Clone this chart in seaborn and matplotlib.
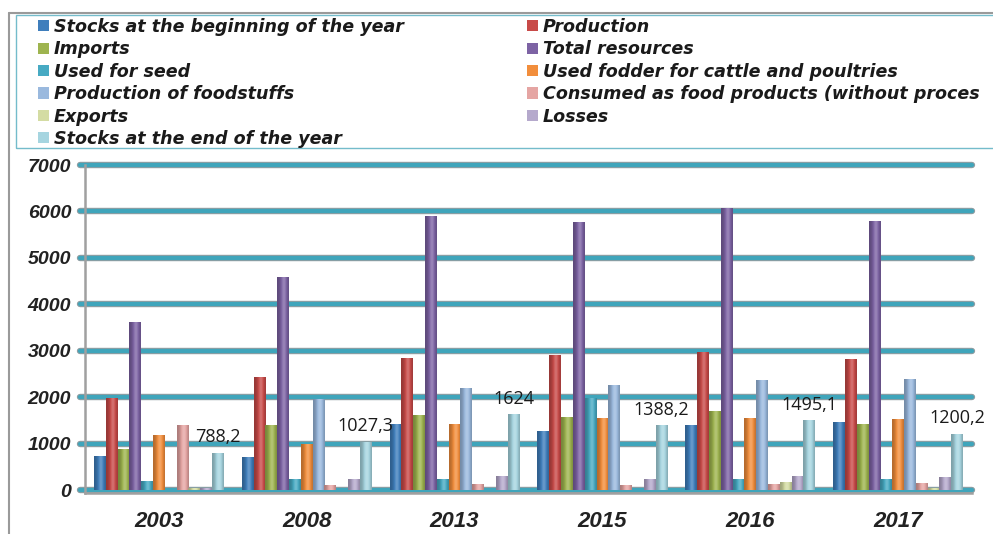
import numpy as np
import pandas as pd
import matplotlib
matplotlib.use("Agg")
import matplotlib.pyplot as plt
from matplotlib.patches import Patch, Rectangle
from matplotlib.lines import Line2D
from matplotlib.colors import to_rgb
import seaborn as sns

# chart values
years = ["2003", "2008", "2013", "2015", "2016", "2017"]
categories = [
    "Stocks at the beginning of the year",
    "Production",
    "Imports",
    "Total resources",
    "Used for seed",
    "Used fodder for cattle and poultries",
    "Production of foodstuffs",
    "Consumed as food products (without proces",  # cut off like in the original
    "Exports",
    "Losses",
    "Stocks at the end of the year",
]
stocks_begin = [720, 710, 1400, 1250, 1380, 1450]
production = [1980, 2430, 2840, 2890, 2960, 2820]
imports = [880, 1380, 1600, 1570, 1680, 1420]
total_resources = [3600, 4570, 5890, 5760, 6070, 5780]
used_seed = [180, 230, 220, 1980, 220, 220]
fodder = [1170, 970, 1420, 1550, 1530, 1510]
foodstuffs = [0, 1940, 2180, 2240, 2350, 2370]
consumed = [1380, 100, 110, 90, 110, 140]
exports = [40, 0, 0, 0, 160, 30]
losses = [40, 220, 300, 220, 300, 270]
stocks_end = [788.2, 1027.3, 1624, 1388.2, 1495.1, 1200.2]
end_labels = ["788,2", "1027,3", "1624", "1388,2", "1495,1", "1200,2"]
yticks = [0, 1000, 2000, 3000, 4000, 5000, 6000, 7000]

series = [stocks_begin, production, imports, total_resources, used_seed, fodder,
          foodstuffs, consumed, exports, losses, stocks_end]
colors = ["#3F7EBC", "#C84A48", "#9EB44F", "#7D63A4", "#47AAC3", "#F28E3C",
          "#9AB9DE", "#E5A5A3", "#D4DCA3", "#B5A9CC", "#A6D5E0"]

rows = []
for cat, vals in zip(categories, series):
    for yr, v in zip(years, vals):
        rows.append({"year": yr, "category": cat, "value": v})
df = pd.DataFrame(rows)

sns.set_style("white")
plt.rcParams["font.family"] = ["Liberation Sans", "DejaVu Sans"]

fig = plt.figure(figsize=(9.93, 5.34), dpi=100)
W, H = 993, 534
ax = fig.add_axes([85 / W, (H - 492.8) / H, 887 / W, 327.8 / H])

# thick teal gridlines with grey rim
for t in yticks:
    ax.axhline(t, xmin=-0.006, xmax=1, color="#8E9EA3", lw=4.6, zorder=0.5, clip_on=False)
    ax.axhline(t, xmin=-0.006, xmax=1, color="#3FA5BB", lw=3.0, zorder=0.6, clip_on=False)

sns.barplot(data=df, x="year", y="value", hue="category", hue_order=categories,
            order=years, palette=colors, saturation=1, width=0.88, dodge=True,
            legend=False, ax=ax, zorder=2, linewidth=0)

ax.set_xlim(-0.5, len(years) - 0.5)
ax.set_ylim(-60, 7000)

# cylinder-like shading on every bar
tt = np.linspace(0, 1, 40)
shade = 0.74 + 0.40 * np.exp(-((tt - 0.58) / 0.30) ** 2)
for p in list(ax.patches):
    h = p.get_height()
    if h <= 0:
        continue
    c = np.array(to_rgb(p.get_facecolor()))
    img = np.empty((1, len(tt), 3))
    for k, f in enumerate(shade):
        img[0, k] = c * f if f < 1 else c + (1 - c) * (f - 1) * 1.6
    img = np.clip(img, 0, 1)
    x0 = p.get_x()
    ax.imshow(img, extent=[x0, x0 + p.get_width(), 0, h], aspect="auto",
              interpolation="bicubic", zorder=2.1)
ax.set_xlim(-0.5, len(years) - 0.5)
ax.set_ylim(-60, 7000)
ax.set_aspect("auto")

ax.bar_label(ax.containers[-1], labels=end_labels, padding=5,
             fontsize=13, family="Open Sans", color="#1a1a1a", zorder=3)

ax.set_yticks(yticks)
ax.set_yticklabels([str(t) for t in yticks])
ax.set_xlabel("")
ax.set_ylabel("")
ax.tick_params(axis="y", length=0, pad=10, labelsize=14, labelcolor="#222222")
ax.tick_params(axis="x", which="major", length=0, pad=13, labelsize=16, labelcolor="#222222")
for lab in ax.get_yticklabels() + ax.get_xticklabels():
    lab.set_fontweight("bold")
    lab.set_fontstyle("italic")
ax.set_xticks([i + 0.5 for i in range(-1, len(years))], minor=True)
ax.tick_params(axis="x", which="minor", length=5, width=1.3, color="#9A9A9A")

for s in ["top", "right"]:
    ax.spines[s].set_visible(False)
ax.spines["left"].set_color("#A0A0A0")
ax.spines["left"].set_linewidth(1.8)
ax.spines["bottom"].set_color("#A0A0A0")
ax.spines["bottom"].set_linewidth(1.8)

# frame lines around chart area and legend box
fig.add_artist(Line2D([9 / W, 9 / W], [0, 1 - 13 / H], color="#9A9A9A", lw=1.5))
fig.add_artist(Line2D([9 / W, 1], [1 - 13 / H, 1 - 13 / H], color="#9A9A9A", lw=1.5))
fig.add_artist(Rectangle((16 / W, 1 - 148 / H), 1.0, 133 / H, fill=False,
                         edgecolor="#74BCCB", lw=1.0))

# legend in two columns, row-major like the original
handles = [Patch(facecolor=c, edgecolor="none") for c in colors]
leg_kw = dict(frameon=False, loc="upper left", borderpad=0, borderaxespad=0,
              handlelength=0.6, handleheight=0.6, handletextpad=0.3,
              labelspacing=0.25,
              prop={"family": "DejaVu Sans", "weight": "bold",
                    "style": "italic", "size": 12.6})
left_idx = [0, 2, 4, 6, 8, 10]
right_idx = [1, 3, 5, 7, 9]
leg1 = fig.legend([handles[i] for i in left_idx], [categories[i] for i in left_idx],
                  bbox_to_anchor=(38 / W, 1 - 18 / H), **leg_kw)
leg2 = fig.legend([handles[i] for i in right_idx], [categories[i] for i in right_idx],
                  bbox_to_anchor=(527 / W, 1 - 18 / H), **leg_kw)
for leg in (leg1, leg2):
    for t in leg.get_texts():
        t.set_color("#1a1a1a")

fig.savefig("out.png", dpi=100)
